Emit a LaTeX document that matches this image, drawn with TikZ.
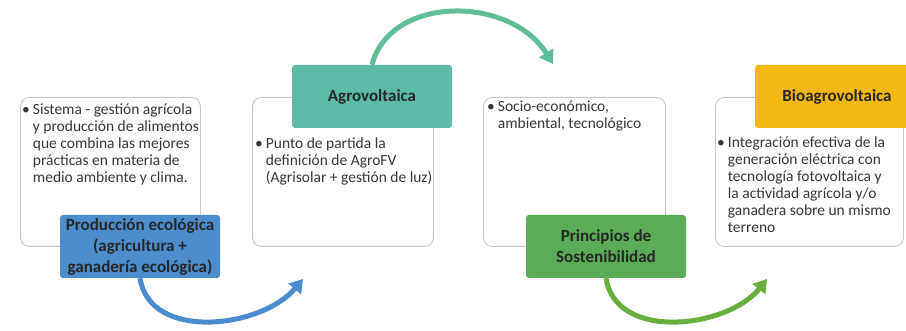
\documentclass[tikz,border=0pt]{standalone}
\usepackage{fontspec}
\setmainfont{Carlito}
\usetikzlibrary{arrows.meta,positioning}

\definecolor{azulprod}{RGB}{76,141,206}
\definecolor{verdeagua}{RGB}{92,187,166}
\definecolor{verdeprin}{RGB}{90,172,86}
\definecolor{amarillo}{RGB}{244,184,18}
\definecolor{flechaagua}{RGB}{96,190,150}
\definecolor{flechaazul}{RGB}{74,140,208}
\definecolor{flechaverde}{RGB}{104,176,62}
\definecolor{textogris}{RGB}{55,55,55}

% bullet with hanging lines
\newcommand{\vineta}[1]{\begin{tabular}[t]{@{}l@{\hspace{3pt}}l@{}}\textbullet&\begin{tabular}[t]{@{}l@{}}#1\end{tabular}\end{tabular}}

\begin{document}
\begin{tikzpicture}[x=1pt, y=-1pt,
  caja/.style={draw=gray!45, line width=0.9pt, rounded corners=9pt, fill=white,
    minimum width=#1, minimum height=149pt, anchor=north west, inner sep=0pt},
  etiqueta/.style={fill=#1, rounded corners=3pt, minimum width=160pt, minimum height=63pt,
    align=center, inner sep=2pt, font=\fontsize{17}{21}\selectfont\bfseries, text=black!85},
  cuerpo/.style={anchor=north west, inner sep=0pt, font=\fontsize{15.5}{17}\selectfont, text=textogris},
  flecha/.style={draw=#1, line width=5pt, -{Triangle[length=13pt,width=16pt]}}]

\useasboundingbox (0,0) rectangle (906,331);
\clip (0,0) rectangle (906,331);

% white boxes
\node[caja=180pt] (c1) at (20,97) {};
\node[caja=181pt] (c2) at (252,97) {};
\node[caja=182pt] (c3) at (483,97) {};
\node[caja=188pt] (c4) at (715,97) {};

% box texts
\node[cuerpo] (t1) at (22,102) {\vineta{Sistema - gestión agrícola\\y producción de alimentos\\que combina las mejores\\prácticas en materia de\\medio ambiente y clima.}};
\node[cuerpo] (t2) at (255,136) {\vineta{Punto de partida la\\definición de AgroFV\\(Agrisolar + gestión de luz)}};
\node[cuerpo] (t3) at (487,99) {\vineta{Socio-económico,\\ambiental, tecnológico}};
\node[cuerpo] (t4) at (717,135) {\vineta{Integración efectiva de la\\generación eléctrica con\\tecnología fotovoltaica y\\la actividad agrícola y/o\\ganadera sobre un mismo\\terreno}};

% coloured labels
\node[etiqueta=azulprod] (prod) at (140,246.5) {Producción ecológica\\(agricultura +\\ganadería ecológica)};
\node[etiqueta=verdeagua] (agro) at (372,96.5) {Agrovoltaica};
\node[etiqueta=verdeprin] (prin) at (606,246.5) {Principios de\\Sostenibilidad};
\node[etiqueta=amarillo, minimum width=164pt] (bio) at (837,96.5) {Bioagrovoltaica};

% arrow ends
\coordinate (fin1) at (303,279);
\coordinate (fin2) at (553,64);
\coordinate (fin3) at (767,279);

% curved arrows
\draw[flecha=flechaazul] (prod.south) .. controls (150,342) and (262,328) .. (fin1);
\draw[flecha=flechaagua] (agro.north) .. controls (390,-5) and (510,-5) .. (fin2);
\draw[flecha=flechaverde] (prin.south) .. controls (616,342) and (728,328) .. (fin3);

\end{tikzpicture}
\end{document}
